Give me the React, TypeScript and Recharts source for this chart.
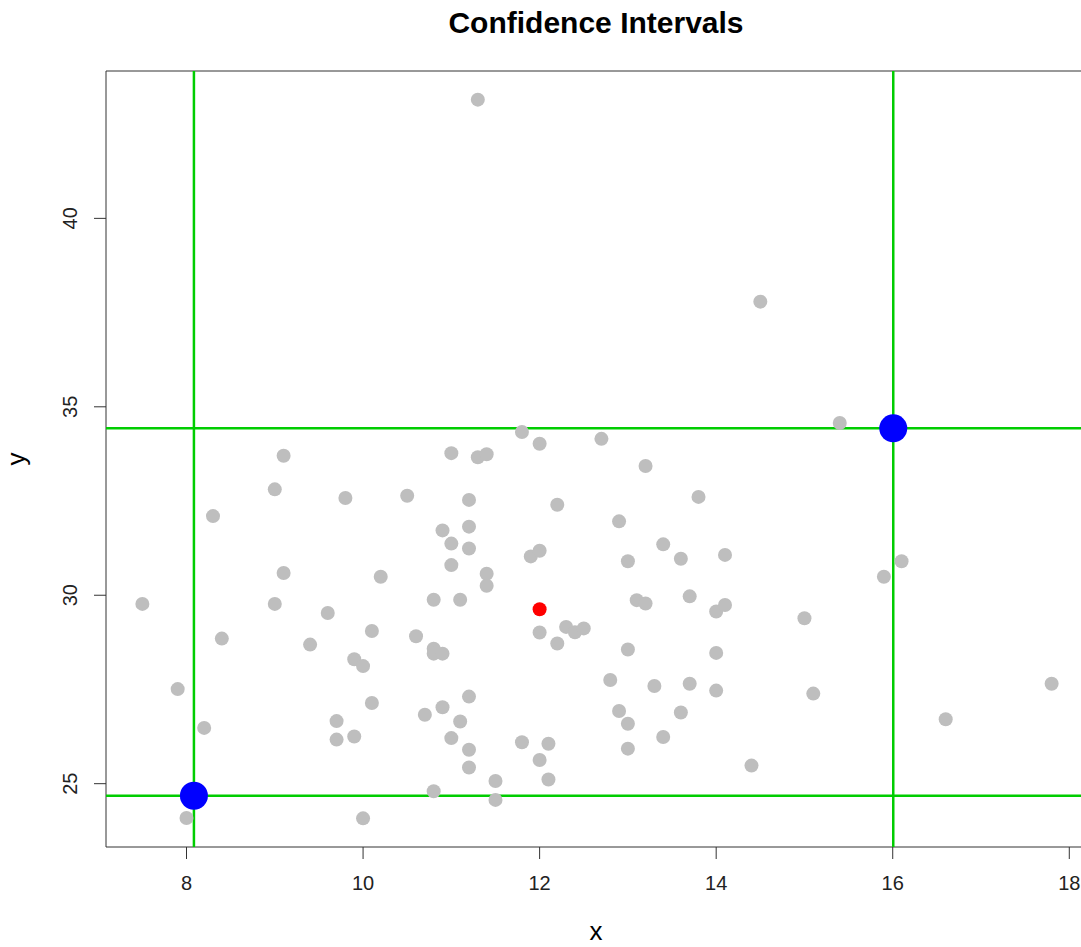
import React from 'react';
import {
  ScatterChart,
  Scatter,
  XAxis,
  YAxis,
  ReferenceLine,
  ReferenceArea,
} from 'recharts';

// simulated sample (x, y pairs)
const sampleX = [
  11.3, 14.5, 15.4, 7.5, 7.9, 8.2, 8.0, 8.3, 8.4, 9.1, 9.0, 9.8, 9.1, 9.0, 9.6, 9.4, 9.9, 10.0, 9.7, 9.7,
  9.9, 10.0, 11.8, 12.0, 11.0, 11.3, 11.4, 10.5, 11.2, 12.2, 10.9, 11.2, 11.0, 11.2, 11.9, 12.0, 11.0, 10.2,
  11.4, 11.4, 10.8, 11.1, 10.1, 10.6, 12.0, 12.3, 12.4, 12.5, 12.2, 10.8, 10.8, 10.9, 11.2, 10.9, 10.1, 10.7,
  11.1, 11.0, 11.2, 11.2, 11.8, 12.1, 12.0, 12.1, 11.5, 10.8, 11.5, 12.7, 13.2, 13.8, 12.9, 13.4, 14.1, 13.6,
  13.0, 13.7, 13.1, 13.2, 14.0, 14.1, 15.0, 13.0, 14.0, 12.8, 13.3, 13.7, 14.0, 15.1, 12.9, 13.0, 13.6, 13.4,
  13.0, 14.4, 16.1, 15.9, 17.8, 16.6,
];
const sampleY = [
  43.15, 37.79, 34.57, 29.77, 27.51, 26.48, 24.09, 32.1, 28.85, 33.7, 32.81, 32.58, 30.59, 29.77, 29.53, 28.69,
  28.3, 28.12, 26.66, 26.17, 26.25, 24.08, 34.33, 34.02, 33.77, 33.66, 33.74, 32.64, 32.53, 32.4, 31.72, 31.82,
  31.37, 31.24, 31.03, 31.18, 30.8, 30.49, 30.57, 30.25, 29.88, 29.88, 29.05, 28.91, 29.01, 29.16, 29.02, 29.12,
  28.72, 28.58, 28.45, 28.45, 27.31, 27.03, 27.14, 26.83, 26.65, 26.21, 25.9, 25.43, 26.1, 26.06, 25.63, 25.11,
  25.07, 24.8, 24.57, 34.15, 33.43, 32.61, 31.96, 31.35, 31.07, 30.97, 30.9, 29.97, 29.87, 29.78, 29.57, 29.74,
  29.39, 28.56, 28.47, 27.75, 27.59, 27.65, 27.47, 27.39, 26.93, 26.59, 26.89, 26.24, 25.93, 25.48, 30.9, 30.49,
  27.65, 26.71,
];

// mean of the sample
const centerX = [12.0];
const centerY = [29.63];

// lower / upper interval limits
const boundX = [8.084, 16.006];
const boundY = [24.68, 34.43];

const xTicks = [8, 10, 12, 14, 16, 18];
const yTicks = [25, 30, 35, 40];
const xDomain = [7.088, 18.212];
const yDomain = [23.32, 43.91];

const points = sampleX.map((x, i) => ({ x, y: sampleY[i] }));
const center = centerX.map((x, i) => ({ x, y: centerY[i] }));
const bounds = boundX.map((x, i) => ({ x, y: boundY[i] }));

const FONT = '"Liberation Sans", Arial, sans-serif';
const GREEN = '#00CD00';

const dot = (r: number, fill: string) => (props: any) =>
  <circle cx={props.cx} cy={props.cy} r={r} fill={fill} />;

const YTick = (props: any) => {
  const { y, payload } = props;
  return (
    <text x={77} y={y} transform={`rotate(-90, 77, ${y})`} textAnchor="middle"
      fontSize={20} fontFamily={FONT} fill="#222">
      {payload.value}
    </text>
  );
};

export default function App() {
  return (
    <div style={{ position: 'absolute', left: 0, top: 0, width: 1081, height: 947, overflow: 'hidden', background: '#fff' }}>
      <ScatterChart width={1100} height={947} margin={{ top: 71, right: 12, bottom: 0, left: 0 }}>
        <XAxis type="number" dataKey="x" domain={xDomain} ticks={xTicks} allowDataOverflow
          axisLine={false} tickSize={12} tickMargin={17} height={100}
          tickLine={{ stroke: '#333' }}
          tick={{ fontSize: 20, fontFamily: FONT, fill: '#222' }} />
        <YAxis type="number" dataKey="y" domain={yDomain} ticks={yTicks} allowDataOverflow
          axisLine={false} tickSize={12} width={106}
          tickLine={{ stroke: '#333' }} tick={<YTick />} />
        <ReferenceArea x1={xDomain[0]} x2={xDomain[1]} y1={yDomain[0]} y2={yDomain[1]}
          fill="none" fillOpacity={0} stroke="#333" strokeWidth={1} />
        <Scatter data={points} isAnimationActive={false} shape={dot(7, '#BEBEBE')} />
        {boundX.map((v) => (
          <ReferenceLine key={'v' + v} x={v} stroke={GREEN} strokeWidth={2.5} />
        ))}
        {boundY.map((v) => (
          <ReferenceLine key={'h' + v} y={v} stroke={GREEN} strokeWidth={2.5} />
        ))}
        <Scatter data={center} isAnimationActive={false} shape={dot(7, '#FF0000')} />
        <Scatter data={bounds} isAnimationActive={false} shape={dot(14, '#0000FF')} />
      </ScatterChart>
      <svg width={1081} height={947} style={{ position: 'absolute', left: 0, top: 0, pointerEvents: 'none' }}>
        <text x={596} y={33} textAnchor="middle" fontSize={30} fontWeight="bold" fontFamily={FONT} fill="#000">
          Confidence Intervals
        </text>
        <text x={596} y={940} textAnchor="middle" fontSize={26} fontFamily={FONT} fill="#000">x</text>
        <text x={25} y={459} transform="rotate(-90, 25, 459)" textAnchor="middle" fontSize={26}
          fontFamily={FONT} fill="#000">y</text>
      </svg>
    </div>
  );
}
